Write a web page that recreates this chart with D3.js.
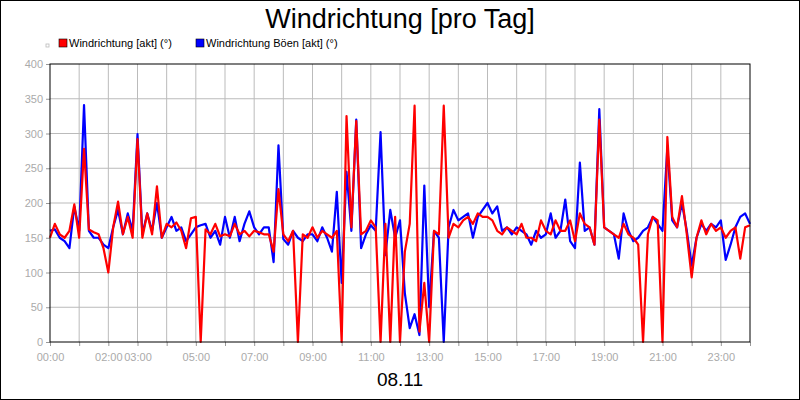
<!DOCTYPE html>
<html><head><meta charset="utf-8">
<script src="https://cdn.jsdelivr.net/npm/d3@7"></script>
<style>body{margin:0;background:#fff}svg{display:block;font-family:"Liberation Sans",Arial,sans-serif}</style>
</head><body><svg id="c" width="800" height="400"></svg>
<script>
const title = "Windrichtung [pro Tag]";
const dateLabel = "08.11";
const seriesNames = ["Windrichtung [akt] (°)", "Windrichtung Böen [akt] (°)"];
const xTickHours = [0,2,3,5,7,9,11,13,15,17,19,21,23];
const yTicks = [0,50,100,150,200,250,300,350,400];
// 10-minute samples, hour by hour
const red = [
 150,170,155,150,160,198,
 150,278,162,158,155,135,
 100,165,202,155,180,150,
 292,150,185,155,224,150,
 170,165,172,160,135,178,
 180,0,162,155,170,152,
 155,152,170,155,160,152,
 160,158,155,155,130,220,
 155,145,160,0,155,150,
 165,150,160,155,150,160,
 0,325,165,318,155,160,
 175,165,0,170,0,180,
 0,130,170,340,15,85,
 0,160,155,340,150,170,
 165,175,180,170,185,180,
 180,175,160,155,165,160,
 155,170,150,150,145,175,
 160,155,175,160,160,175,
 145,185,170,165,140,320,
 165,160,155,150,170,155,
 150,140,0,155,180,175,
 0,295,180,165,210,155,
 93,150,175,155,170,160,
 165,150,160,165,120,165,
 168];
const blue = [
 160,162,150,145,135,195,
 160,341,160,150,150,140,
 135,165,190,155,185,160,
 299,155,185,160,200,150,
 165,180,160,165,145,155,
 165,168,170,150,160,140,
 180,150,180,145,170,188,
 165,155,165,165,115,283,
 148,140,160,150,145,155,
 155,145,165,150,130,216,
 85,245,160,320,135,155,
 168,160,302,125,190,150,
 175,70,20,40,10,225,
 50,160,150,0,165,190,
 175,180,185,150,180,190,
 200,185,195,160,165,155,
 165,160,155,140,160,150,
 155,185,150,160,205,145,
 135,258,160,165,140,335,
 165,160,155,120,185,160,
 145,150,160,165,180,170,
 160,280,175,165,200,160,
 110,150,170,160,170,165,
 175,118,140,165,180,185,
 170];

const svg = d3.select("#c");
svg.append("rect").attr("x",0.5).attr("y",0.5).attr("width",799).attr("height",399).attr("fill","#fff").attr("stroke","#000");
const L=50,R=750,T=64,B=342;
const x=d3.scaleLinear().domain([0,24]).range([L,R]);
const y=d3.scaleLinear().domain([0,400]).range([B,T]);
const g=svg.append("g");
// grid
g.selectAll(".vg").data(d3.range(1,24)).join("line").attr("x1",d=>x(d)).attr("x2",d=>x(d)).attr("y1",T).attr("y2",B).attr("stroke","#bbb");
g.selectAll(".hg").data(yTicks.slice(1,-1)).join("line").attr("y1",d=>y(d)).attr("y2",d=>y(d)).attr("x1",L).attr("x2",R).attr("stroke","#bbb");
// axes
const xa=svg.append("g").attr("transform",`translate(0,${B})`).call(d3.axisBottom(x).tickValues(d3.range(0,25)).tickSize(4).tickFormat(d=>xTickHours.includes(d)?String(d).padStart(2,"0")+":00":""));
const ya=svg.append("g").attr("transform",`translate(${L},0)`).call(d3.axisLeft(y).tickValues(yTicks).tickSize(4));
[xa,ya].forEach(a=>{a.select(".domain").remove();a.selectAll("line").attr("stroke","#999");a.selectAll("text").attr("fill","#aaa").attr("font-size",11).attr("font-family","Liberation Sans, Arial");});
xa.selectAll("text").attr("dy","1.1em");
const line=d3.line().x((d,i)=>x(i/6)).y(d=>y(d));
svg.append("path").datum(blue).attr("d",line).attr("fill","none").attr("stroke","#00f").attr("stroke-width",2.2).attr("stroke-linejoin","round");
svg.append("path").datum(red).attr("d",line).attr("fill","none").attr("stroke","#f00").attr("stroke-width",2.2).attr("stroke-linejoin","round");
svg.append("rect").attr("x",L).attr("y",T).attr("width",R-L).attr("height",B-T).attr("fill","none").attr("stroke","#000");
// texts
svg.append("text").attr("x",400).attr("y",28).attr("text-anchor","middle").attr("font-size",27).text(title);
svg.append("text").attr("x",400).attr("y",386).attr("text-anchor","middle").attr("font-size",19).text(dateLabel);
svg.append("rect").attr("x",46).attr("y",44).attr("width",3).attr("height",3).attr("fill","none").attr("stroke","#bbb").attr("stroke-width",0.8);
const lg=[{c:"#f00",x:59},{c:"#00f",x:196}];
lg.forEach((l,i)=>{
 svg.append("rect").attr("x",l.x).attr("y",39).attr("width",8).attr("height",8).attr("fill",l.c).attr("stroke","#000").attr("stroke-width",0.6);
 svg.append("text").attr("x",l.x+10).attr("y",47).attr("font-size",11).text(seriesNames[i]);
});
</script></body></html>
